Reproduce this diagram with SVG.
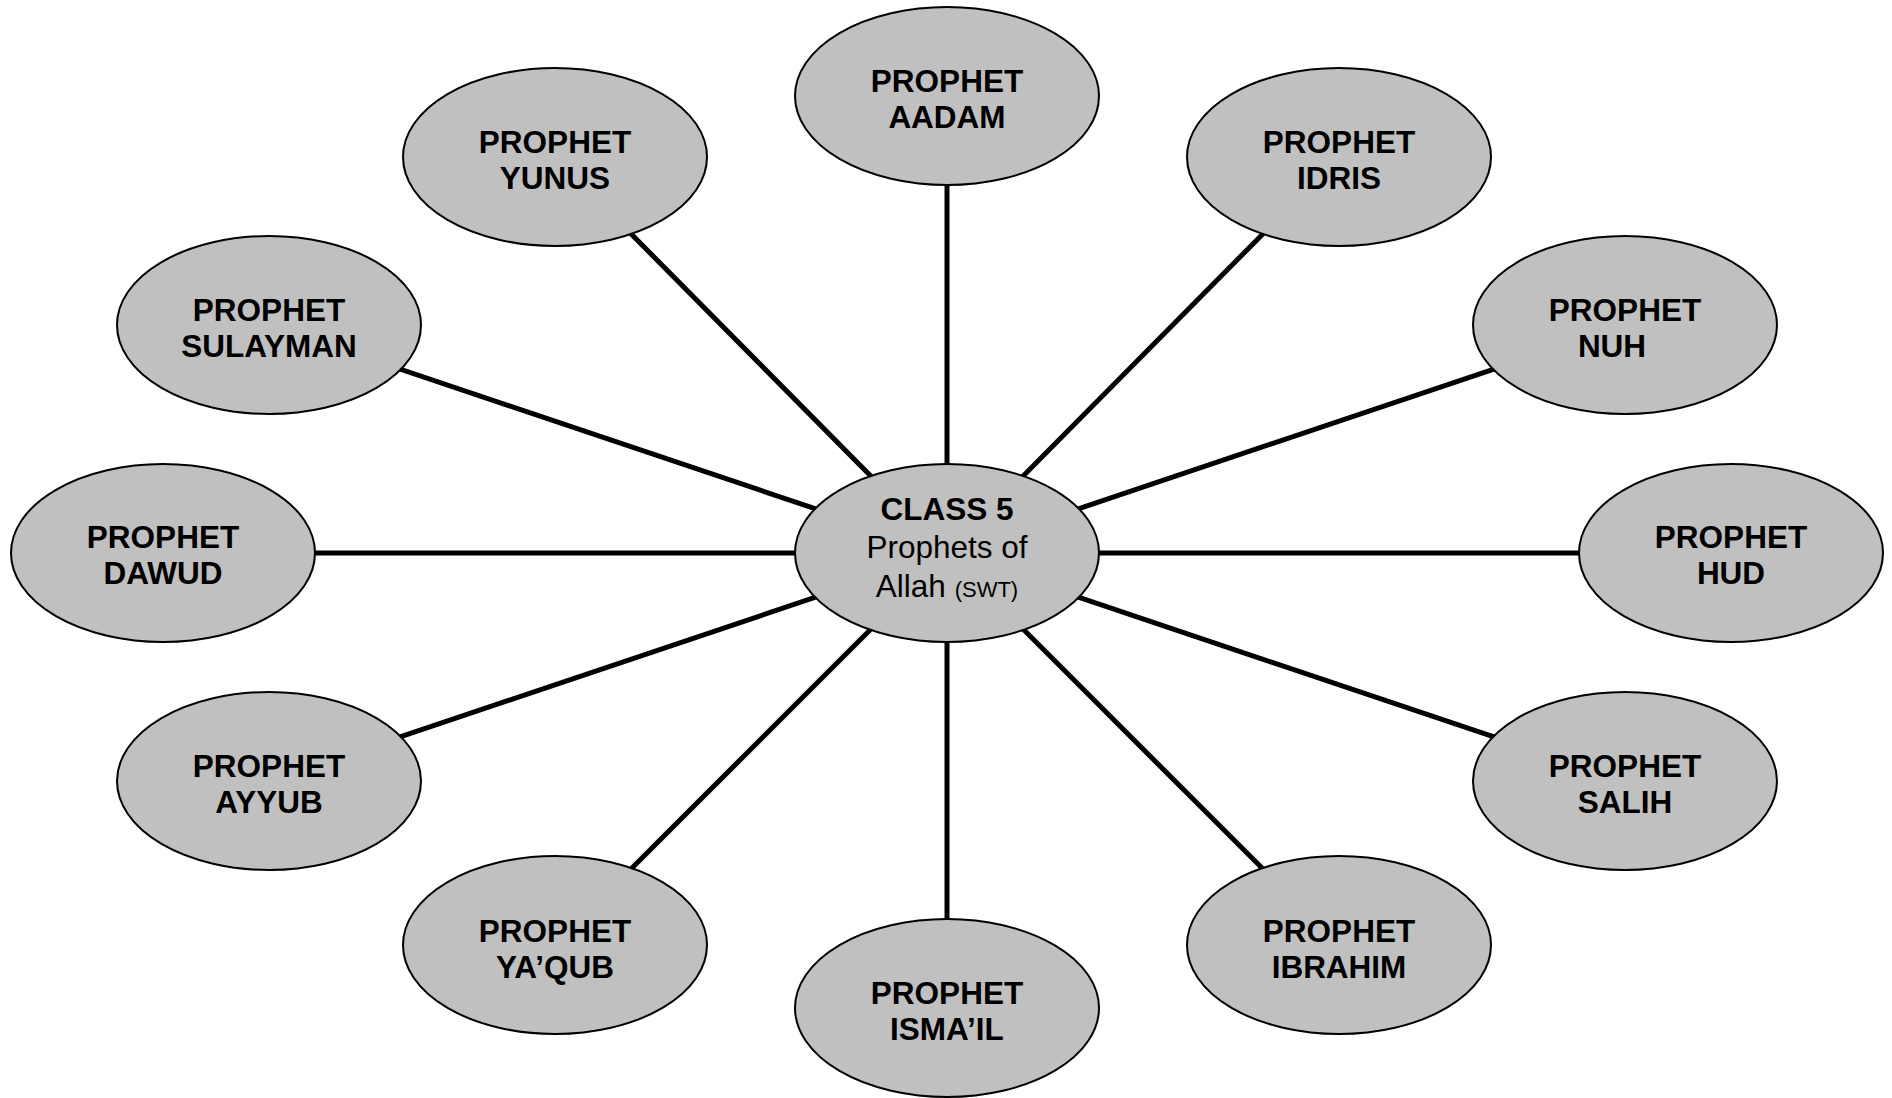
<svg xmlns="http://www.w3.org/2000/svg" width="1892" height="1098" viewBox="0 0 1892 1098">
<style>
.bg{fill:#ffffff}
.edge{stroke:#000;stroke-width:5;fill:none}
.node ellipse{fill:#c0c0c0;stroke:#000;stroke-width:2}
.node text{font-family:"Liberation Sans",Arial,sans-serif;font-size:31.5px;font-weight:bold;fill:#000;text-anchor:middle}
#center text{font-weight:normal}
#center .b{font-weight:bold}
#center .s{font-size:22px}
</style>
<rect class="bg" x="0" y="0" width="1892" height="1098"/>
<g id="connectors">
<line class="edge" x1="947" y1="553" x2="947" y2="96"/>
<line class="edge" x1="947" y1="553" x2="555" y2="157"/>
<line class="edge" x1="947" y1="553" x2="1339" y2="157"/>
<line class="edge" x1="947" y1="553" x2="269" y2="325"/>
<line class="edge" x1="947" y1="553" x2="1625" y2="325"/>
<line class="edge" x1="947" y1="553" x2="163" y2="553"/>
<line class="edge" x1="947" y1="553" x2="1731" y2="553"/>
<line class="edge" x1="947" y1="553" x2="269" y2="781"/>
<line class="edge" x1="947" y1="553" x2="1625" y2="781"/>
<line class="edge" x1="947" y1="553" x2="555" y2="945"/>
<line class="edge" x1="947" y1="553" x2="1339" y2="945"/>
<line class="edge" x1="947" y1="553" x2="947" y2="1008"/>
</g>
<g id="center" class="node">
<ellipse cx="947" cy="553" rx="152" ry="89"/>
<text class="b" x="947" y="520">CLASS 5</text>
<text x="947" y="558">Prophets of</text>
<text x="947" y="597">Allah <tspan class="s">(SWT)</tspan></text>
</g>
<g id="aadam" class="node">
<ellipse cx="947" cy="96" rx="152" ry="89"/>
<text x="947" y="92">PROPHET</text>
<text x="947" y="128">AADAM</text>
</g>
<g id="yunus" class="node">
<ellipse cx="555" cy="157" rx="152" ry="89"/>
<text x="555" y="153">PROPHET</text>
<text x="555" y="189">YUNUS</text>
</g>
<g id="idris" class="node">
<ellipse cx="1339" cy="157" rx="152" ry="89"/>
<text x="1339" y="153">PROPHET</text>
<text x="1339" y="189">IDRIS</text>
</g>
<g id="sulayman" class="node">
<ellipse cx="269" cy="325" rx="152" ry="89"/>
<text x="269" y="321">PROPHET</text>
<text x="269" y="357">SULAYMAN</text>
</g>
<g id="nuh" class="node">
<ellipse cx="1625" cy="325" rx="152" ry="89"/>
<text x="1625" y="321">PROPHET</text>
<text x="1612" y="357">NUH</text>
</g>
<g id="dawud" class="node">
<ellipse cx="163" cy="553" rx="152" ry="89"/>
<text x="163" y="548">PROPHET</text>
<text x="163" y="584">DAWUD</text>
</g>
<g id="hud" class="node">
<ellipse cx="1731" cy="553" rx="152" ry="89"/>
<text x="1731" y="548">PROPHET</text>
<text x="1731" y="584">HUD</text>
</g>
<g id="ayyub" class="node">
<ellipse cx="269" cy="781" rx="152" ry="89"/>
<text x="269" y="777">PROPHET</text>
<text x="269" y="813">AYYUB</text>
</g>
<g id="salih" class="node">
<ellipse cx="1625" cy="781" rx="152" ry="89"/>
<text x="1625" y="777">PROPHET</text>
<text x="1625" y="813">SALIH</text>
</g>
<g id="yaqub" class="node">
<ellipse cx="555" cy="945" rx="152" ry="89"/>
<text x="555" y="942">PROPHET</text>
<text x="555" y="978">YA’QUB</text>
</g>
<g id="ibrahim" class="node">
<ellipse cx="1339" cy="945" rx="152" ry="89"/>
<text x="1339" y="942">PROPHET</text>
<text x="1339" y="978">IBRAHIM</text>
</g>
<g id="ismail" class="node">
<ellipse cx="947" cy="1008" rx="152" ry="89"/>
<text x="947" y="1004">PROPHET</text>
<text x="947" y="1040">ISMA’IL</text>
</g>
</svg>
